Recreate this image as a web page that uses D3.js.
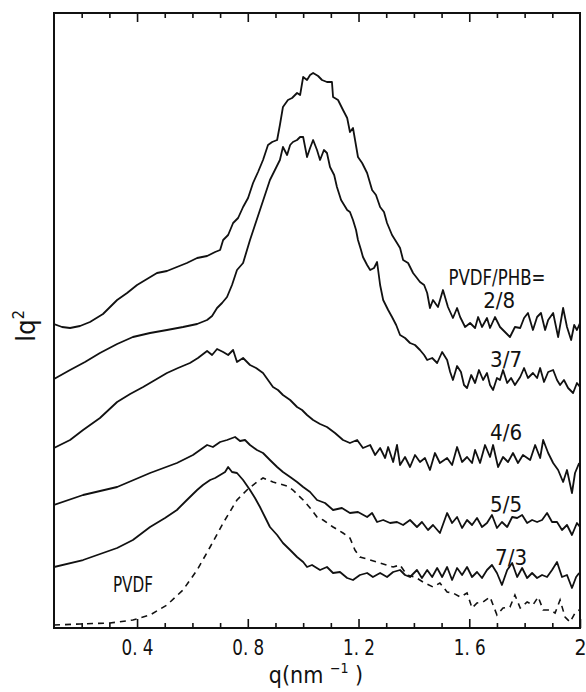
<!DOCTYPE html>
<html>
<head>
<meta charset="utf-8">
<script src="https://cdnjs.cloudflare.com/ajax/libs/d3/7.8.5/d3.min.js"></script>
<style>
  body { margin: 0; background: #fff; }
  text { font-family: "DejaVu Sans Condensed", "DejaVu Sans", sans-serif; fill: #111; }
</style>
</head>
<body>
<div id="chart"></div>
<script>
// q (nm^-1) vs Iq^2 (arbitrary units)
const s28 = [[0.100,3.04],[0.129,3.01],[0.158,3.00],[0.194,3.02],[0.230,3.06],[0.277,3.14],[0.328,3.28],[0.364,3.35],[0.400,3.43],[0.436,3.49],[0.472,3.55],[0.508,3.57],[0.544,3.61],[0.580,3.65],[0.617,3.70],[0.653,3.72],[0.682,3.76],[0.700,3.78],[0.711,3.88],[0.729,3.93],[0.747,4.05],[0.765,4.10],[0.783,4.21],[0.801,4.30],[0.819,4.45],[0.837,4.56],[0.855,4.68],[0.873,4.83],[0.888,4.86],[0.906,4.88],[0.916,5.03],[0.927,5.21],[0.945,5.28],[0.960,5.30],[0.978,5.35],[0.989,5.33],[1.000,5.51],[1.014,5.48],[1.025,5.53],[1.036,5.55],[1.054,5.52],[1.068,5.48],[1.086,5.46],[1.104,5.46],[1.108,5.31],[1.126,5.28],[1.144,5.18],[1.159,5.10],[1.169,4.96],[1.180,5.00],[1.198,4.71],[1.213,4.65],[1.231,4.55],[1.249,4.38],[1.263,4.33],[1.278,4.21],[1.292,4.16],[1.303,4.05],[1.321,3.93],[1.339,3.85],[1.350,3.80],[1.361,3.68],[1.379,3.65],[1.397,3.55],[1.411,3.50],[1.422,3.46],[1.437,3.43],[1.448,3.35],[1.458,3.20],[1.469,3.28],[1.487,3.21],[1.505,3.38],[1.523,3.21],[1.541,3.10],[1.556,3.20],[1.567,3.11],[1.585,3.01],[1.603,3.05],[1.621,3.00],[1.632,3.11],[1.646,3.01],[1.664,3.10],[1.675,3.00],[1.693,3.11],[1.711,3.01],[1.729,2.96],[1.747,2.91],[1.765,3.01],[1.784,3.00],[1.798,3.10],[1.812,3.15],[1.830,2.98],[1.845,3.11],[1.859,3.15],[1.874,2.98],[1.885,3.08],[1.903,3.15],[1.921,2.91],[1.939,3.20],[1.953,3.01],[1.968,2.88],[1.979,3.03],[1.989,2.98],[2.000,3.05]];

const s37 = [[0.100,2.49],[0.158,2.58],[0.212,2.66],[0.266,2.75],[0.328,2.84],[0.385,2.91],[0.447,2.95],[0.508,2.98],[0.566,3.01],[0.617,3.04],[0.653,3.08],[0.671,3.12],[0.689,3.20],[0.707,3.25],[0.725,3.31],[0.743,3.43],[0.761,3.58],[0.783,3.65],[0.808,3.88],[0.826,4.03],[0.844,4.18],[0.862,4.33],[0.880,4.48],[0.898,4.58],[0.916,4.68],[0.927,4.81],[0.942,4.73],[0.953,4.83],[0.963,4.86],[0.978,4.88],[0.989,4.91],[1.000,4.91],[1.014,4.71],[1.025,4.80],[1.036,4.88],[1.050,4.78],[1.061,4.68],[1.075,4.78],[1.086,4.75],[1.097,4.61],[1.112,4.53],[1.122,4.41],[1.137,4.28],[1.148,4.23],[1.159,4.18],[1.169,4.16],[1.180,4.08],[1.191,3.98],[1.198,3.88],[1.209,3.78],[1.216,3.71],[1.231,3.63],[1.242,3.58],[1.256,3.60],[1.267,3.66],[1.278,3.43],[1.289,3.28],[1.307,3.18],[1.321,3.11],[1.336,3.03],[1.350,2.93],[1.368,2.90],[1.386,2.85],[1.404,2.83],[1.422,2.78],[1.437,2.73],[1.448,2.68],[1.466,2.70],[1.484,2.65],[1.502,2.76],[1.520,2.68],[1.531,2.56],[1.541,2.48],[1.556,2.62],[1.570,2.56],[1.581,2.43],[1.592,2.40],[1.607,2.53],[1.621,2.45],[1.635,2.58],[1.650,2.48],[1.664,2.55],[1.675,2.43],[1.686,2.38],[1.700,2.50],[1.711,2.48],[1.722,2.58],[1.737,2.45],[1.751,2.50],[1.765,2.43],[1.784,2.51],[1.798,2.60],[1.812,2.50],[1.830,2.55],[1.845,2.50],[1.856,2.60],[1.870,2.46],[1.885,2.56],[1.903,2.58],[1.917,2.48],[1.928,2.43],[1.942,2.48],[1.957,2.40],[1.975,2.35],[1.989,2.45],[2.000,2.41]];

const s46 = [[0.100,1.80],[0.158,1.88],[0.205,1.98],[0.266,2.10],[0.328,2.26],[0.375,2.34],[0.422,2.41],[0.465,2.48],[0.508,2.55],[0.548,2.60],[0.591,2.65],[0.620,2.70],[0.653,2.77],[0.671,2.73],[0.689,2.79],[0.711,2.76],[0.729,2.73],[0.747,2.78],[0.761,2.66],[0.783,2.70],[0.808,2.63],[0.830,2.60],[0.855,2.55],[0.873,2.48],[0.891,2.41],[0.909,2.38],[0.927,2.33],[0.953,2.28],[0.978,2.21],[0.996,2.18],[1.014,2.13],[1.036,2.08],[1.061,2.04],[1.086,2.01],[1.115,1.95],[1.144,1.88],[1.169,1.85],[1.195,1.88],[1.216,1.80],[1.242,1.83],[1.260,1.73],[1.278,1.80],[1.296,1.70],[1.307,1.81],[1.325,1.66],[1.339,1.83],[1.350,1.63],[1.368,1.71],[1.386,1.61],[1.404,1.73],[1.422,1.66],[1.440,1.70],[1.458,1.58],[1.476,1.75],[1.494,1.65],[1.520,1.70],[1.538,1.63],[1.556,1.81],[1.574,1.66],[1.592,1.71],[1.610,1.65],[1.621,1.78],[1.639,1.65],[1.657,1.83],[1.675,1.71],[1.686,1.83],[1.704,1.61],[1.722,1.71],[1.740,1.66],[1.758,1.75],[1.776,1.65],[1.794,1.73],[1.820,1.68],[1.838,1.83],[1.856,1.70],[1.867,1.88],[1.885,1.75],[1.903,1.65],[1.921,1.58],[1.939,1.46],[1.953,1.58],[1.971,1.35],[1.982,1.55],[1.997,1.65]];

const s55 = [[0.100,1.23],[0.205,1.33],[0.328,1.41],[0.447,1.55],[0.544,1.65],[0.602,1.73],[0.653,1.83],[0.674,1.81],[0.700,1.86],[0.725,1.88],[0.754,1.91],[0.772,1.87],[0.790,1.88],[0.808,1.83],[0.833,1.78],[0.855,1.75],[0.880,1.68],[0.906,1.61],[0.927,1.56],[0.953,1.51],[0.978,1.46],[1.000,1.41],[1.025,1.36],[1.050,1.28],[1.079,1.25],[1.108,1.18],[1.140,1.20],[1.169,1.15],[1.198,1.16],[1.231,1.11],[1.249,1.15],[1.267,1.06],[1.289,1.08],[1.314,1.05],[1.339,1.06],[1.361,1.03],[1.386,1.08],[1.411,1.01],[1.429,1.06],[1.451,0.98],[1.469,1.03],[1.494,0.95],[1.520,1.15],[1.538,1.05],[1.556,1.11],[1.574,1.00],[1.592,1.08],[1.610,1.03],[1.628,1.10],[1.646,1.01],[1.664,1.05],[1.682,1.13],[1.700,1.00],[1.718,1.06],[1.737,1.01],[1.755,1.11],[1.773,1.10],[1.791,1.13],[1.809,1.05],[1.827,1.08],[1.845,1.06],[1.863,1.08],[1.881,1.15],[1.899,1.06],[1.917,1.06],[1.935,0.98],[1.953,1.03],[1.971,0.93],[1.989,1.05],[2.000,1.01]];

const s73 = [[0.100,0.61],[0.205,0.68],[0.328,0.80],[0.385,0.88],[0.447,1.01],[0.501,1.10],[0.544,1.18],[0.580,1.28],[0.617,1.38],[0.638,1.43],[0.664,1.48],[0.682,1.50],[0.700,1.53],[0.718,1.56],[0.729,1.61],[0.743,1.56],[0.761,1.55],[0.783,1.48],[0.808,1.38],[0.826,1.30],[0.844,1.21],[0.862,1.11],[0.880,1.01],[0.906,0.93],[0.927,0.85],[0.953,0.78],[0.978,0.71],[1.000,0.66],[1.014,0.61],[1.032,0.63],[1.061,0.58],[1.086,0.61],[1.108,0.55],[1.133,0.56],[1.159,0.50],[1.180,0.48],[1.205,0.53],[1.231,0.55],[1.252,0.51],[1.278,0.55],[1.303,0.51],[1.325,0.56],[1.350,0.58],[1.368,0.53],[1.386,0.51],[1.411,0.58],[1.429,0.50],[1.448,0.58],[1.466,0.51],[1.484,0.60],[1.502,0.51],[1.520,0.61],[1.538,0.48],[1.556,0.60],[1.574,0.53],[1.592,0.61],[1.610,0.51],[1.628,0.56],[1.646,0.50],[1.664,0.58],[1.682,0.63],[1.700,0.55],[1.718,0.43],[1.737,0.58],[1.755,0.65],[1.773,0.51],[1.791,0.60],[1.809,0.50],[1.827,0.55],[1.845,0.50],[1.863,0.53],[1.881,0.51],[1.899,0.58],[1.917,0.66],[1.935,0.51],[1.953,0.53],[1.971,0.40],[1.986,0.51],[1.997,0.55]];

const sPVDF = [[0.100,0.03],[0.194,0.04],[0.302,0.05],[0.385,0.08],[0.447,0.13],[0.508,0.23],[0.566,0.38],[0.617,0.58],[0.664,0.81],[0.711,1.05],[0.761,1.28],[0.797,1.38],[0.833,1.46],[0.855,1.50],[0.873,1.48],[0.891,1.46],[0.916,1.44],[0.942,1.42],[0.963,1.38],[1.000,1.28],[1.025,1.20],[1.050,1.11],[1.072,1.08],[1.108,1.01],[1.144,0.95],[1.169,0.90],[1.187,0.78],[1.205,0.71],[1.242,0.68],[1.278,0.65],[1.325,0.61],[1.350,0.63],[1.375,0.53],[1.404,0.51],[1.433,0.46],[1.469,0.41],[1.494,0.45],[1.520,0.36],[1.541,0.35],[1.567,0.31],[1.592,0.35],[1.610,0.20],[1.628,0.25],[1.650,0.26],[1.675,0.31],[1.700,0.13],[1.722,0.20],[1.747,0.21],[1.765,0.33],[1.784,0.20],[1.809,0.26],[1.830,0.23],[1.849,0.31],[1.867,0.18],[1.892,0.18],[1.910,0.15],[1.928,0.28],[1.946,0.11],[1.964,0.06],[1.982,0.15],[1.997,0.18]];

const majorTicks = [0.4, 0.8, 1.2, 1.6, 2.0];
const majorLabels = ["0. 4", "0. 8", "1. 2", "1. 6", "2"];
const minorTicks = [0.2, 0.3, 0.5, 0.6, 0.7, 0.9, 1.0, 1.1, 1.3, 1.4, 1.5, 1.7, 1.8, 1.9];

// curve annotations: text, q, Iq^2
const labelText = ["PVDF/PHB=", "2/8", "3/7", "4/6", "5/5", "7/3", "PVDF"];
const labelQ = [1.700, 1.708, 1.733, 1.733, 1.733, 1.751, 0.385];
const labelI = [3.43, 3.20, 2.61, 1.88, 1.16, 0.63, 0.36];

const width = 586, height = 692;
const margin = { top: 13, right: 6, bottom: 64, left: 54 };

const x = d3.scaleLinear().domain([0.1, 2.0]).range([margin.left, width - margin.right]);
const y = d3.scaleLinear().domain([0, 6.15]).range([height - margin.bottom, margin.top]);

const svg = d3.select("#chart").append("svg")
  .attr("width", width)
  .attr("height", height);

svg.append("defs").append("clipPath").attr("id", "plotclip")
  .append("rect")
  .attr("x", x(0.1)).attr("y", y(6.15))
  .attr("width", x(2.0) - x(0.1)).attr("height", y(0) - y(6.15));

var line = d3.line().x(d => x(d[0])).y(d => y(d[1]));

const curves = svg.append("g").attr("clip-path", "url(#plotclip)");
[s28, s37, s46, s55, s73].forEach(function(s) {
  curves.append("path")
    .datum(s)
    .attr("d", line)
    .attr("fill", "none")
    .attr("stroke", "#111")
    .attr("stroke-width", 1.8)
    .attr("stroke-linejoin", "round");
});
curves.append("path")
  .datum(sPVDF)
  .attr("d", line)
  .attr("fill", "none")
  .attr("stroke", "#111")
  .attr("stroke-width", 1.6)
  .attr("stroke-dasharray", "6,5");

// axes: ticks point inward on bottom and top
function styleAxis(g) {
  g.select(".domain").remove();
  g.selectAll(".tick line").attr("stroke", "#111").attr("stroke-width", 1.6);
}

svg.append("g")
  .attr("transform", `translate(0,${y(0)})`)
  .call(d3.axisBottom(x).tickValues(majorTicks).tickSize(-9).tickPadding(12)
    .tickFormat((d, i) => majorLabels[i]))
  .call(styleAxis)
  .call(g => g.selectAll("text")
    .style("font-family", '"DejaVu Sans Condensed", "DejaVu Sans", sans-serif')
    .style("font-size", "21px").attr("fill", "#111")
    .attr("textLength", (d, i) => majorLabels[i].length > 1 ? 32 : null)
    .attr("lengthAdjust", "spacingAndGlyphs"));

svg.append("g")
  .attr("transform", `translate(0,${y(0)})`)
  .call(d3.axisBottom(x).tickValues(minorTicks).tickSize(-5).tickFormat(""))
  .call(styleAxis);

svg.append("g")
  .attr("transform", `translate(0,${y(6.15)})`)
  .call(d3.axisTop(x).tickValues(majorTicks.slice(0, 4)).tickSize(-9).tickFormat(""))
  .call(styleAxis);

svg.append("g")
  .attr("transform", `translate(0,${y(6.15)})`)
  .call(d3.axisTop(x).tickValues(minorTicks).tickSize(-5).tickFormat(""))
  .call(styleAxis);

// frame
svg.append("rect")
  .attr("x", x(0.1)).attr("y", y(6.15))
  .attr("width", x(2.0) - x(0.1)).attr("height", y(0) - y(6.15))
  .attr("fill", "none")
  .attr("stroke", "#111")
  .attr("stroke-width", 2);

// annotations
svg.append("g").selectAll("text")
  .data(labelText)
  .enter()
  .append("text")
  .attr("x", (d, i) => x(labelQ[i]))
  .attr("y", (d, i) => y(labelI[i]))
  .attr("text-anchor", "middle")
  .style("font-size", "22px")
  .attr("textLength", d => d.length > 5 ? 97 : (d.length > 3 ? 40 : 32))
  .attr("lengthAdjust", "spacingAndGlyphs")
  .text(d => d);

// axis titles
const xt = svg.append("text")
  .attr("x", 316)
  .attr("y", 683)
  .attr("text-anchor", "middle")
  .style("font-size", "23px");
xt.append("tspan").text("q(nm ");
xt.append("tspan").attr("dy", -10).style("font-size", "14px").text("\u22121");
xt.append("tspan").attr("dy", 10).text(" )");

const yt = svg.append("text")
  .attr("transform", "translate(35,326) rotate(-90)")
  .attr("text-anchor", "middle")
  .style("font-size", "27px");
yt.append("tspan").text("Iq");
yt.append("tspan").attr("dy", -11).style("font-size", "16px").text("2");
</script>
</body>
</html>
